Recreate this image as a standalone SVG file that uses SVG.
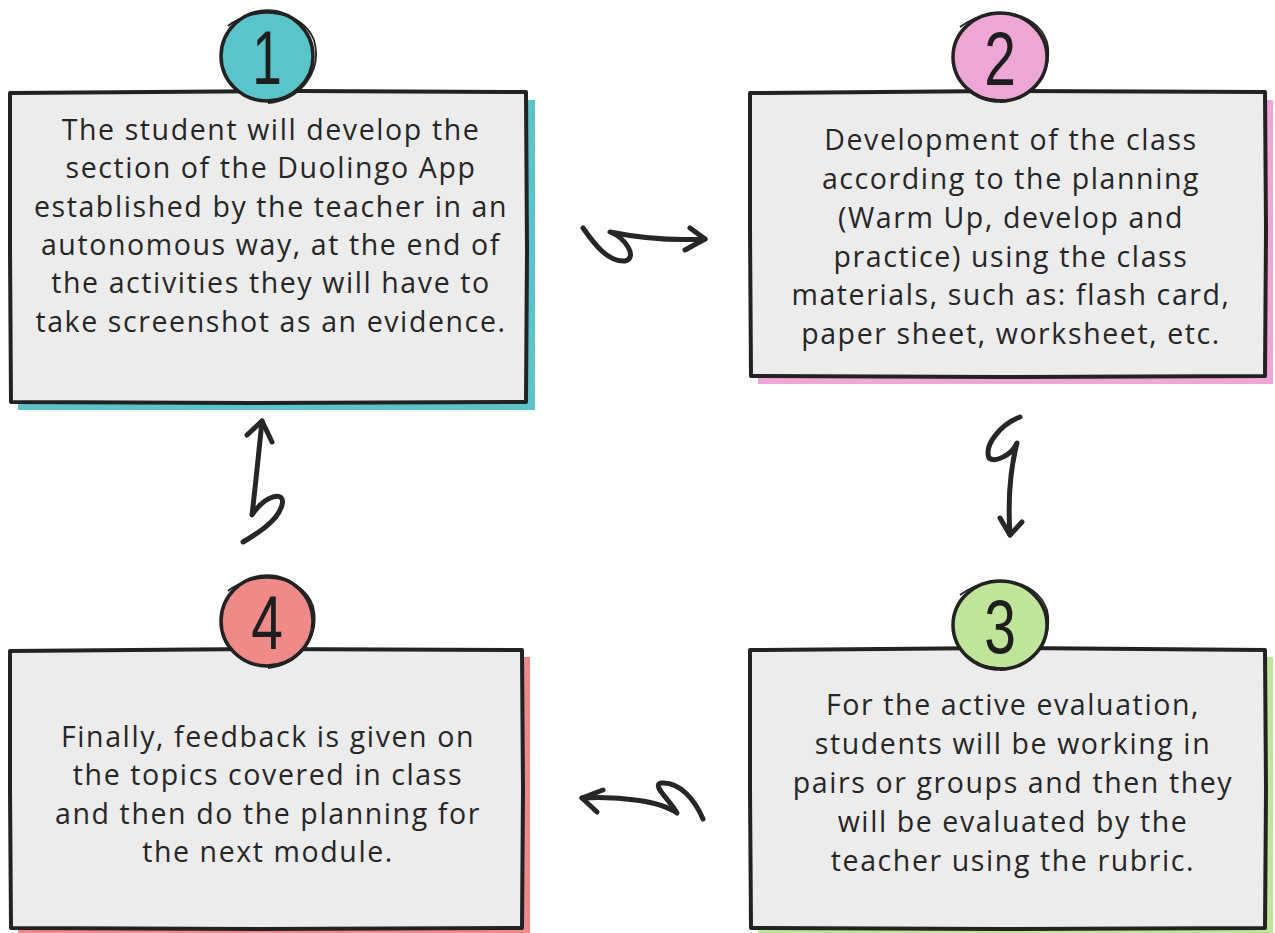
<svg xmlns="http://www.w3.org/2000/svg" width="1275" height="933" viewBox="0 0 1275 933">
<style>
.box{fill:#ececec;stroke:#222;stroke-width:4;stroke-linejoin:round}
.t{font-family:"Open Sans","Liberation Sans",sans-serif;font-size:28.5px;font-weight:500;fill:#262626;text-anchor:middle;letter-spacing:1.6px}
.num{font-family:"Liberation Sans",sans-serif;font-size:76px;fill:#1e1e1e;text-anchor:middle}
.circ{stroke:#222;stroke-width:3.5}
.sk{fill:none;stroke:#222;stroke-width:1.8}
.ar{fill:none;stroke:#262626;stroke-width:5;stroke-linecap:round;stroke-linejoin:round}
</style>
<rect width="1275" height="933" fill="#ffffff"/>

<g id="node1">
<rect x="18" y="100" width="517" height="310" fill="#5bc4c8"/>
<path class="box" d="M10,93 L300,91 L526,92 L527,250 L526,402 L250,403 L11,402 L10,250 Z"/>
<ellipse class="circ" cx="267" cy="56" rx="46" ry="45" fill="#5bc4c8"/>
<path class="sk" d="M228,26 C255,5 302,9 314,40 C323,72 300,100 268,103"/>
<path class="sk" d="M224,70 C230,92 250,102 272,101"/>
<text class="num" x="267" y="84" transform="translate(267 0) scale(0.7 1) translate(-267 0)">1</text>
<text class="t" x="271" y="140">The student will develop the</text>
<text class="t" x="271" y="178">section of the Duolingo App</text>
<text class="t" x="271" y="217">established by the teacher in an</text>
<text class="t" x="271" y="255">autonomous way, at the end of</text>
<text class="t" x="271" y="293">the activities they will have to</text>
<text class="t" x="271" y="332">take screenshot as an evidence.</text>
</g>

<g id="node2">
<rect x="758" y="100" width="515" height="284" fill="#eea6d7"/>
<path class="box" d="M750,93 L1000,91 L1265,92 L1266,230 L1265,376 L1000,377 L751,376 L750,230 Z"/>
<ellipse class="circ" cx="1000" cy="57" rx="47" ry="44" fill="#eea6d7"/>
<path class="sk" d="M960,27 C990,5 1036,9 1047,42 C1054,73 1030,100 1000,102"/>
<path class="sk" d="M956,72 C962,92 982,101 1004,100"/>
<text class="num" x="1000" y="85" transform="translate(1000 0) scale(0.75 1) translate(-1000 0)">2</text>
<text class="t" x="1011" y="150">Development of the class</text>
<text class="t" x="1011" y="189">according to the planning</text>
<text class="t" x="1011" y="228">(Warm Up, develop and</text>
<text class="t" x="1011" y="267">practice) using the class</text>
<text class="t" x="1011" y="305">materials, such as: flash card,</text>
<text class="t" x="1011" y="344">paper sheet, worksheet, etc.</text>
</g>

<g id="node3">
<rect x="758" y="657" width="515" height="276" fill="#bee59a"/>
<path class="box" d="M750,650 L1000,648 L1265,650 L1266,790 L1265,928 L1000,929 L751,928 L750,790 Z"/>
<ellipse class="circ" cx="1000" cy="625" rx="47" ry="44" fill="#bee59a"/>
<path class="sk" d="M960,595 C990,573 1036,577 1047,610 C1054,641 1030,668 1000,670"/>
<path class="sk" d="M956,640 C962,660 982,669 1004,668"/>
<text class="num" x="1000" y="653" transform="translate(1000 0) scale(0.75 1) translate(-1000 0)">3</text>
<text class="t" x="1013" y="715">For the active evaluation,</text>
<text class="t" x="1013" y="754">students will be working in</text>
<text class="t" x="1013" y="793">pairs or groups and then they</text>
<text class="t" x="1013" y="832">will be evaluated by the</text>
<text class="t" x="1013" y="871">teacher using the rubric.</text>
</g>

<g id="node4">
<rect x="18" y="657" width="512" height="276" fill="#ee8a87"/>
<path class="box" d="M10,651 L260,649 L522,650 L523,790 L522,928 L260,929 L11,928 L10,790 Z"/>
<ellipse class="circ" cx="267" cy="621" rx="46" ry="45" fill="#ee8a87"/>
<path class="sk" d="M228,591 C255,570 302,574 313,606 C321,637 298,665 268,668"/>
<path class="sk" d="M224,636 C230,657 250,667 272,666"/>
<text class="num" x="267" y="649" transform="translate(267 0) scale(0.75 1) translate(-267 0)">4</text>
<text class="t" x="268" y="747">Finally, feedback is given on</text>
<text class="t" x="268" y="785">the topics covered in class</text>
<text class="t" x="268" y="824">and then do the planning for</text>
<text class="t" x="268" y="862">the next module.</text>
</g>

<g id="connectors">
<path class="ar" d="M583,228 C595,245 608,262 625,261 C638,258 626,238 610,232 C640,238 672,241 705,239"/>
<path class="ar" d="M690,228 L705,239 L685,250"/>
<path class="ar" d="M1020,417 C1000,425 984,445 989,458 C995,463 1012,455 1017,443 C1010,470 1008,505 1010,535"/>
<path class="ar" d="M1000,518 L1010,535 L1022,522"/>
<path class="ar" d="M582,798 C620,796 660,801 677,813 C670,800 650,784 662,783 C680,782 695,800 703,819"/>
<path class="ar" d="M603,790 L582,798 L597,812"/>
<path class="ar" d="M262,421 C258,460 255,490 252,515 C265,495 286,490 282,505 C278,520 260,532 243,542"/>
<path class="ar" d="M247,435 L262,421 L272,442"/>
</g>
</svg>
